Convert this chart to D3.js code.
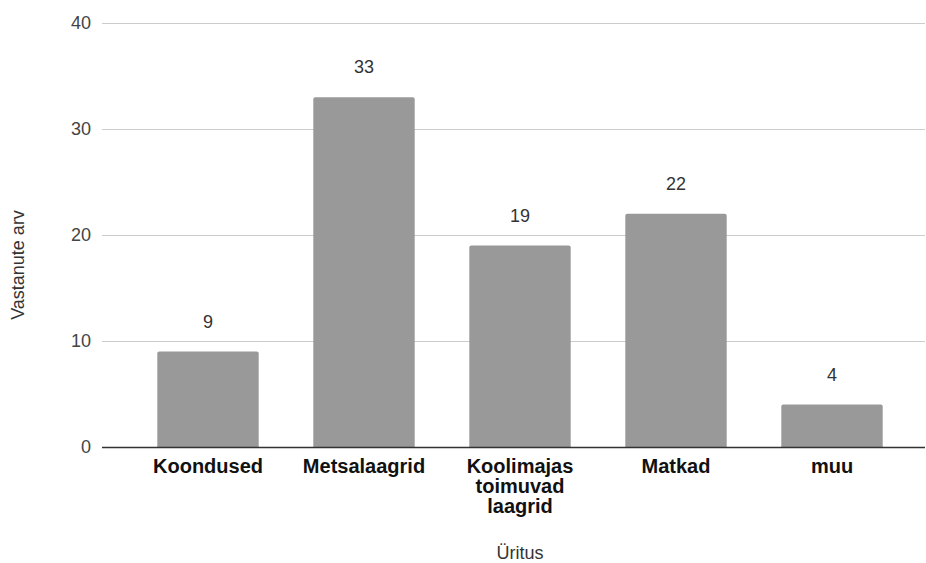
<!DOCTYPE html>
<html>
<head>
<meta charset="utf-8">
<script src="https://cdn.jsdelivr.net/npm/d3@7"></script>
<style>
  body { margin: 0; background: #fff; }
  svg { font-family: "Liberation Sans", Arial, sans-serif; }
</style>
</head>
<body>
<script>
// Andmed
const categories = ["Koondused", "Metsalaagrid", "Koolimajas toimuvad laagrid", "Matkad", "muu"];
const labelLines = [["Koondused"], ["Metsalaagrid"], ["Koolimajas", "toimuvad", "laagrid"], ["Matkad"], ["muu"]];
const counts = [9, 33, 19, 22, 4];
const yTicks = [0, 10, 20, 30, 40];

const width = 926;
const height = 563;
const plot = { left: 102, right: 925, top: 23, bottom: 447 };
const fs = 18;

const svg = d3.select('body')
              .append('svg')
              .attr('width', width)
              .attr('height', height);

const x = d3.scaleBand()
            .domain(categories)
            .range([130, 910])
            .paddingInner(0.35)
            .paddingOuter(0.175);

const y = d3.scaleLinear()
            .domain([0, 40])
            .range([plot.bottom, plot.top]);

// ruudustik
svg.append('g')
   .selectAll('line')
   .data(yTicks.filter(d => d > 0))
   .enter()
   .append('line')
   .attr('x1', plot.left)
   .attr('x2', plot.right)
   .attr('y1', d => y(d) + 0.5)
   .attr('y2', d => y(d) + 0.5)
   .attr('stroke', '#cccccc')
   .attr('stroke-width', 1);

// y telje sildid
svg.append('g')
   .selectAll('text')
   .data(yTicks)
   .enter()
   .append('text')
   .attr('x', 91)
   .attr('y', d => y(d))
   .attr('dy', '0.35em')
   .attr('text-anchor', 'end')
   .attr('font-size', fs)
   .attr('fill', '#444')
   .text(d => d);

// tulbad, ümarad ülanurgad
const r = 2;
function barPath(x0, w, yTop, yBot) {
  const p = d3.path();
  p.moveTo(x0, yBot);
  p.lineTo(x0, yTop + r);
  p.quadraticCurveTo(x0, yTop, x0 + r, yTop);
  p.lineTo(x0 + w - r, yTop);
  p.quadraticCurveTo(x0 + w, yTop, x0 + w, yTop + r);
  p.lineTo(x0 + w, yBot);
  p.closePath();
  return p.toString();
}

svg.append('g')
   .selectAll('path')
   .data(counts)
   .enter()
   .append('path')
   .attr('d', (d, i) => barPath(x(categories[i]), x.bandwidth(), y(d), y(0)))
   .attr('fill', '#999999');

// väärtused
svg.append('g')
   .selectAll('text')
   .data(counts)
   .enter()
   .append('text')
   .attr('x', (d, i) => x(categories[i]) + x.bandwidth() / 2)
   .attr('y', d => y(d) - 24)
   .attr('text-anchor', 'middle')
   .attr('font-size', fs)
   .attr('fill', '#333')
   .text(d => d);

// baasjoon
svg.append('line')
   .attr('x1', plot.left)
   .attr('x2', plot.right)
   .attr('y1', y(0) + 0.5)
   .attr('y2', y(0) + 0.5)
   .attr('stroke', '#333')
   .attr('stroke-width', 1.3);

// kategooriate sildid
const catText = svg.append('g')
   .selectAll('text')
   .data(labelLines)
   .enter()
   .append('text')
   .attr('text-anchor', 'middle')
   .attr('font-size', 20)
   .attr('font-weight', 'bold')
   .attr('fill', '#111');

catText.selectAll('tspan')
   .data((d, i) => d.map(t => ({ t, i })))
   .enter()
   .append('tspan')
   .attr('x', d => x(categories[d.i]) + x.bandwidth() / 2)
   .attr('y', (d, j) => 473 + j * 20)
   .text(d => d.t);

// telgede pealkirjad
svg.append('text')
   .attr('x', 520)
   .attr('y', 559)
   .attr('text-anchor', 'middle')
   .attr('font-size', fs)
   .attr('fill', '#333')
   .text('Üritus');

svg.append('text')
   .attr('transform', 'translate(24, 265) rotate(-90)')
   .attr('text-anchor', 'middle')
   .attr('font-size', fs)
   .attr('fill', '#333')
   .text('Vastanute arv');
</script>
</body>
</html>
